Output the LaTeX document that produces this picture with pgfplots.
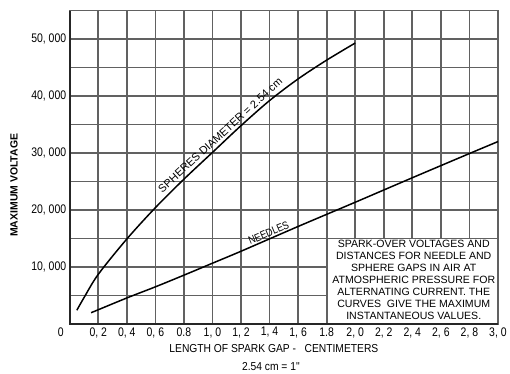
\documentclass[border=0pt]{standalone}
\usepackage{pgfplots}
\pgfplotsset{compat=1.18}
\usepackage{fontspec}
\setmainfont{Liberation Sans}
\newfontfamily\cfa[FakeStretch=0.84]{Liberation Sans}
\newfontfamily\cfb[FakeStretch=0.89]{Liberation Sans}
\begin{document}
\begin{tikzpicture}
\begin{axis}[
  scale only axis, width=430pt, height=314.6pt,
  xmin=0, xmax=3, ymin=0, ymax=55000,
  xtick={0.2,0.4,0.6,0.8,1.0,1.2,1.4,1.6,1.8,2.0,2.2,2.4,2.6,2.8,3.0},
  xticklabels={{0, 2},{0, 4},{0, 6},{0.8},{1, 0},{1, 2},{1, 4},{1, 6},{1.8},{2, 0},{2, 2},{2, 4},{2, 6},{2, 8},{3, 0}},
  ytick={10000,20000,30000,40000,50000},
  yticklabels={{10, 000},{20, 000},{30, 000},{40, 000},{50, 000}},
  minor ytick={5000,15000,25000,35000,45000,55000},
  grid=both,
  grid style={draw=black!62, line width=1.7pt},
  major grid style={draw=black!62, line width=1.7pt},
  minor grid style={draw=black!62, line width=1.7pt},
  major tick length=0pt, minor tick length=0pt,
  axis line style={draw=black!62, line width=1.7pt},
  ticklabel style={font=\cfa\fontsize{12.5}{12.5}\selectfont},
  scaled y ticks=false,
  clip=false,
]
\addplot[black, line width=1.5pt, smooth] coordinates {
 (0.05,2400) (0.1,4600) (0.2,8700) (0.4,14900) (0.6,20400) (0.8,25400)
 (1.0,30100) (1.2,34800) (1.4,39200) (1.6,43000) (1.8,46300) (2.0,49300)
};
\addplot[black, line width=1.5pt, smooth] coordinates {
 (0.15,1960) (0.4,4550) (0.6,6500) (0.8,8550) (1.0,10650) (1.2,12750)
 (1.6,17100) (2.0,21350) (2.4,25650) (2.8,29900) (3.0,32000)
};
\draw[draw=black!62, line width=1.7pt, fill=white] (axis cs:1.8,0) rectangle (axis cs:3,15000);
\node[align=center, font=\fontsize{10.6}{12}\selectfont] at (axis cs:2.41,7700)
 {SPARK-OVER VOLTAGES AND\\DISTANCES FOR NEEDLE AND\\SPHERE GAPS IN AIR AT\\ATMOSPHERIC PRESSURE FOR\\ALTERNATING CURRENT. THE\\CURVES\ \ GIVE THE MAXIMUM\\INSTANTANEOUS VALUES.};
\node[rotate=42.5, anchor=south, inner sep=3.5pt, font=\fontsize{11}{12}\selectfont] at (axis cs:1.09,32150) {SPHERES DIAMETER = 2.54 cm};
\node[rotate=23, anchor=south, inner sep=2pt, font=\cfa\fontsize{11}{12}\selectfont] at (axis cs:1.41,15000) {NEEDLES};
\draw[black!85, line width=2.4pt] (rel axis cs:0,1) -- (rel axis cs:0,0) -- (rel axis cs:1,0);
\end{axis}
\node[font=\cfa\fontsize{12.5}{12.5}\selectfont] at (-9pt,-8pt) {0};
\node[font=\cfb\fontsize{11.6}{12}\selectfont] at (205pt,-24.8pt) {LENGTH OF SPARK GAP -\ \ \ CENTIMETERS};
\node[font=\cfb\fontsize{11.6}{12}\selectfont] at (202pt,-42.8pt) {2.54 cm = 1"};
\node[rotate=90, font=\bfseries\fontsize{10.5}{12}\selectfont] at (-56pt,139.2pt) {MAXIMUM VOLTAGE};
\path (-70pt,-47.8pt) rectangle (440pt,325.2pt);
\end{tikzpicture}
\end{document}
